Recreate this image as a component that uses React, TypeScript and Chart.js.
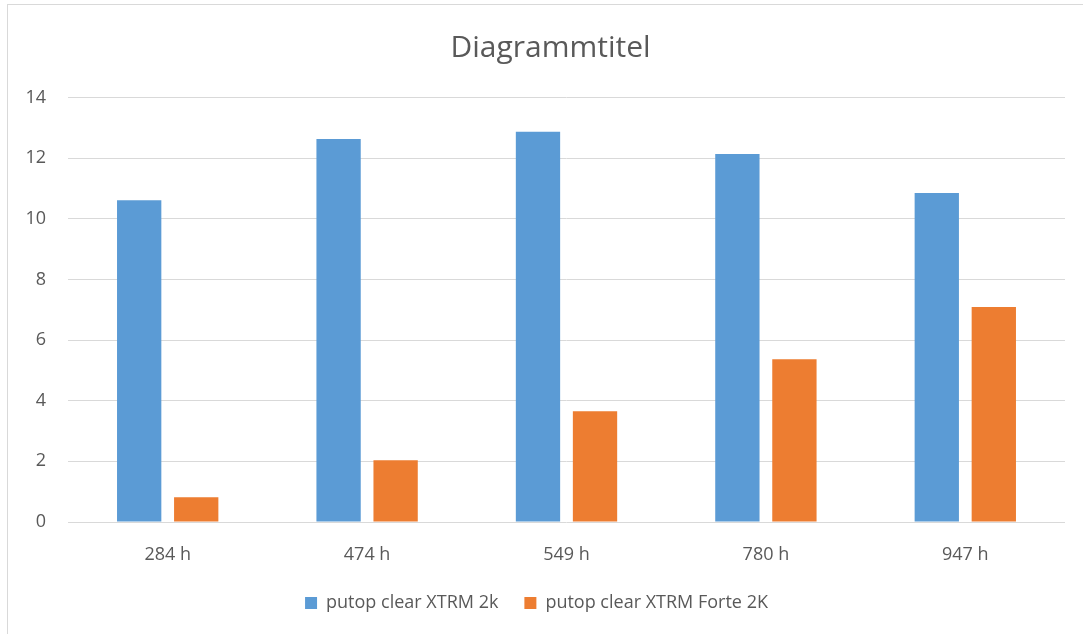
import React, { useEffect, useRef } from "react";
import { Chart, registerables } from "chart.js";

Chart.register(...registerables);

const categories = ["284 h", "474 h", "549 h", "780 h", "947 h"];
const seriesNames = ["putop clear XTRM 2k", "putop clear XTRM Forte 2K"];
const xtrm2k = [10.61, 12.63, 12.87, 12.14, 10.85];
const xtrmForte2k = [0.82, 2.04, 3.65, 5.37, 7.09];
const yTicks = [0, 2, 4, 6, 8, 10, 12, 14];
const titleText = "Diagrammtitel";

const FONT = "'Open Sans', 'Liberation Sans', sans-serif";
const TEXT = "#595959";

const shiftTitle = {
  id: "shiftTitle",
  afterLayout(chart: any) {
    const t = chart.titleBlock;
    if (t) t.right += 28;
  },
};

export default function App() {
  const ref = useRef<HTMLCanvasElement | null>(null);
  useEffect(() => {
    if (!ref.current) return;
    const chart = new Chart(ref.current, {
      type: "bar",
      data: {
        labels: categories,
        datasets: [
          { label: seriesNames[0], data: xtrm2k, backgroundColor: "#5B9BD5", borderWidth: 0 },
          { label: seriesNames[1], data: xtrmForte2k, backgroundColor: "#ED7D31", borderWidth: 0 },
        ],
      },
      plugins: [shiftTitle],
      options: {
        animation: false,
        responsive: false,
        maintainAspectRatio: false,
        layout: { padding: { left: 0, right: 28, top: 0, bottom: 12 } },
        datasets: { bar: { categoryPercentage: 0.572, barPercentage: 0.777 } },
        plugins: {
          title: {
            display: true,
            text: titleText,
            color: TEXT,
            font: { family: FONT, size: 30, weight: "normal", lineHeight: 1.2 },
            padding: { top: 25, bottom: 31.5 },
          },
          legend: {
            position: "bottom",
            labels: {
              color: TEXT,
              font: { family: FONT, size: 18 },
              boxWidth: 12,
              boxHeight: 12,
              padding: 26,
            },
          },
          tooltip: { enabled: false },
        },
        scales: {
          x: {
            grid: { display: false },
            border: { display: false },
            ticks: { color: TEXT, font: { family: FONT, size: 18 }, padding: 14 },
            afterFit: (s: any) => { s.height = 46; },
          },
          y: {
            min: 0,
            max: 14,
            afterBuildTicks: (s: any) => { s.ticks = yTicks.map((v) => ({ value: v })); },
            grid: { color: "#d9d9d9", lineWidth: 1, drawTicks: false },
            border: { display: false },
            ticks: { color: TEXT, font: { family: FONT, size: 18 }, padding: 22 },
            afterFit: (s: any) => { s.width = 60; },
          },
        },
      },
    });
    return () => chart.destroy();
  }, []);
  return (
    <div
      style={{
        position: "fixed",
        left: 7,
        top: 4,
        width: 1200,
        height: 800,
        border: "1px solid #d9d9d9",
        background: "#fff",
      }}
    >
      <canvas ref={ref} width={1085} height={629} style={{ display: "block", width: 1085, height: 629 }} />
    </div>
  );
}
